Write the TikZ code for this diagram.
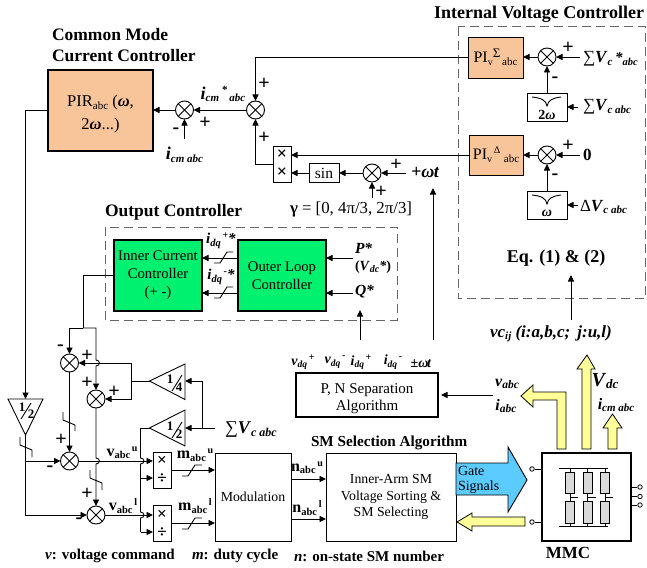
\documentclass[tikz,border=0pt]{standalone}
\usepackage{fontspec}
\setmainfont{Liberation Serif}
\usetikzlibrary{arrows.meta}
\definecolor{pirc}{HTML}{F8C49A}
\definecolor{grn}{HTML}{00F070}
\definecolor{yel}{HTML}{FFFF99}
\definecolor{blu}{HTML}{5CCBFF}
\definecolor{dashc}{HTML}{666666}
\newcommand\fz[1]{\fontsize{#1}{#1}\selectfont}
\newcommand\bi[1]{\textbf{\textit{#1}}}
\newcommand\lowt[2][9.5]{\raisebox{-2.5pt}{\fz{#1}\bfseries\itshape #2}}
\newcommand\hight[2][9.5]{\raisebox{5pt}{\fz{#1}\bfseries #2}}
\newcommand\nlow[2][9.5]{\raisebox{-2.5pt}{\fz{#1}#2}}
\newcommand\blow[2][9.5]{\raisebox{-2.5pt}{\fz{#1}\bfseries #2}}
\def\hopv#1#2{-- (#1,#2-3) .. controls (#1+4.5,#2-3) and (#1+4.5,#2+3) .. (#1,#2+3)}
\tikzset{
 x=1pt,y=-1pt,
 every path/.style={line width=.9pt},
 arr/.style={-{Triangle[length=6.5pt,width=6pt]}},
 box/.style={draw,inner sep=0pt,outer sep=0pt,align=center,font=\fz{15},line width=.9pt},
 txt/.style={inner sep=0pt,outer sep=0pt},
 title/.style={txt,font=\fz{17.5}\bfseries,align=left},
 lab/.style={txt,font=\fz{14}},
 pm/.style={txt,font=\fz{20}\bfseries},
 frac/.style={txt,font=\fz{13}\bfseries},
 sumj/.style={circle,draw,inner sep=0pt,outer sep=0pt,minimum size=18pt,line width=.9pt,
  path picture={\draw (path picture bounding box.north west)--(path picture bounding box.south east)
   (path picture bounding box.north east)--(path picture bounding box.south west);}},
 dbox/.style={draw=dashc,line width=1pt,dash pattern=on 9pt off 5pt},
 yarrow/.style={draw,fill=yel,line width=.8pt,line join=miter},
 term/.style={circle,draw,fill=white,inner sep=0pt,minimum size=4.5pt,line width=.8pt},
 res/.style={draw,fill=black!15,inner sep=0pt,minimum width=9pt,minimum height=21pt,line width=.7pt},
}
\begin{document}
\begin{tikzpicture}
\useasboundingbox (0,0) rectangle (647,567);
% dashed boxes
\draw[dbox] (458,27) rectangle (645.5,298);
\draw[dbox] (105,227) rectangle (397,320);
% titles
\node[title,anchor=west] (t1) at (52,35) {Common Mode};
\node[title,anchor=west] (t2) at (52,56) {Current Controller};
\node[title,anchor=east,font=\fz{18}\bfseries] (t3) at (644,14) {Internal Voltage Controller};
\node[title,anchor=west] (t4) at (105,212) {Output Controller};
\node[txt,font=\fz{15.2}\bfseries,anchor=west] (t5) at (311,443) {SM Selection Algorithm};
\node[txt,font=\fz{17}\bfseries] (t6) at (568,553) {MMC};
\node[txt,font=\fz{18}\bfseries] (t7) at (556,258) {Eq. (1) \& (2)};
% main boxes
\node[box,fill=pirc,minimum width=105pt,minimum height=81pt,line width=1.1pt,font=\fz{16.5}] (pir) at (100.5,110.5)
 {\rule{0pt}{19pt}PIR\nlow[11]{abc} (\bi{ω},\\[6pt]2\bi{ω}...)};
\node[sumj] (s1) at (184.5,110) {};
\node[sumj] (s2) at (255.5,110) {};
\node[box,fill=pirc,minimum width=55pt,minimum height=41pt,font=\fz{16}] (pis) at (495.5,57.5)
 {PI\nlow[10]{v}\raisebox{5pt}{\fz{13}Σ}\nlow[11]{\,abc}};
\node[box,fill=pirc,minimum width=54pt,minimum height=40pt,font=\fz{16}] (pid) at (496,155)
 {PI\nlow[10]{v}\raisebox{6pt}{\fz{10}\,Δ}\nlow[11]{\,\,abc}};
\node[sumj] (s3) at (547,57) {};
\node[sumj] (s4) at (547,155) {};
\node[box,minimum width=40pt,minimum height=28pt] (f1) at (547,107) {};
\node[box,minimum width=40pt,minimum height=28pt] (f2) at (547,205) {};
\node[txt,font=\fz{14}\bfseries\itshape] (f1t) at (547,115) {\textup{2}ω};
\node[txt,font=\fz{14}\bfseries\itshape] (f2t) at (547,213) {ω};
\draw (532,97) .. controls (541,98) and (546,100) .. (547,106) .. controls (548,100) and (553,98) .. (561,97);
\draw (532,195) .. controls (541,196) and (546,198) .. (547,204) .. controls (548,198) and (553,196) .. (561,195);
\node[box,minimum width=18pt,minimum height=36pt,font=\fz{18}\bfseries] (mult) at (282,164) {×\\[0pt]×};
\node[box,minimum width=30pt,minimum height=19pt,font=\fz{15.5}] (sin) at (324,173) {sin};
\node[sumj] (s5) at (372,173) {};
\node[box,fill=grn,minimum width=88pt,minimum height=71pt,line width=1.1pt,font=\fz{14.7}] (inner) at (158,275.5)
 {Inner Current\\[3.3pt]Controller\\[3.3pt](+ -)};
\node[box,fill=grn,minimum width=88pt,minimum height=71pt,line width=1.1pt,font=\fz{14.7}] (outer) at (282,275.5)
 {Outer Loop\\[3.3pt]Controller};
\node[box,minimum width=142pt,minimum height=44pt,line width=1.1pt] (pn) at (367,395)
 {\rule{0pt}{17pt}P, N Separation\\[2.5pt]Algorithm};
\node[box,minimum width=76pt,minimum height=88pt,font=\fz{13.8}] (mod) at (253,497) {Modulation};
\node[box,minimum width=130pt,minimum height=88pt,font=\fz{13.8}] (sm) at (391,497)
 {Inner-Arm SM\\[3pt]Voltage Sorting \&\\[3pt]SM Selecting};
\node[box,minimum width=89pt,minimum height=88pt,line width=1.5pt] (mmc) at (586.5,497) {};
% sums at left
\node[sumj] (sa) at (69.5,363) {};
\node[sumj] (sb) at (96,399) {};
\node[sumj] (sc) at (69.5,461) {};
\node[sumj] (sd) at (96,515) {};
\node[box,minimum width=18pt,minimum height=36pt,font=\fz{17}\bfseries] (mu) at (162,470) {×\\[1pt]÷};
\node[box,minimum width=18pt,minimum height=36pt,font=\fz{17}\bfseries] (ml) at (162,523.5) {×\\[1pt]÷};
% gain triangles
\draw (8,399) coordinate (hb1) -- (43,399) -- (25.5,435) coordinate (ha) -- cycle;
\coordinate (htop) at (25.5,399);
\draw (149.5,381) coordinate (qa) -- (185,364) -- (185,399.5) -- cycle;
\coordinate (qb) at (185,381);
\draw (149.5,428) coordinate (ga) -- (185,410) -- (185,446) -- cycle;
\coordinate (gb) at (185,428);
\node[frac] (f11) at (170,379) {1}; \node[frac] (f12) at (179,387) {4};
\draw (172,391) -- (182,375);
\node[frac] (f21) at (170,426) {1}; \node[frac] (f22) at (179,434) {2};
\draw (172,438) -- (182,422);
\node[frac] (f31) at (22,407) {1}; \node[frac] (f32) at (31,414) {2};
\draw (21,419) -- (31,403);
% connectors, top
\draw[arr] (s1.west) -- (pir.east|-s1);
\draw[arr] (s2.west) -- (s1.east);
\coordinate (icm) at (184.5,139);
\draw[arr] (icm) -- (s1.south);
\draw[arr] (pis.west) -| (s2.north);
\draw[arr] (mult.west) -| (s2.south);
\draw[arr] (pid.west) -- (mult.east|-pid);
\draw[arr] (sin.west) -- (mult.east|-sin);
\draw[arr] (s5.west) -- (sin.east);
\coordinate (wt) at (406,173);
\draw[arr] (wt) -- (s5.east);
\coordinate (gam) at (372,198);
\draw[arr] (gam) -- (s5.south);
\draw[arr] (s3.west) -- (pis.east|-s3);
\draw[arr] (s4.west) -- (pid.east|-s4);
\coordinate (i3) at (580,57); \coordinate (i4) at (580,155);
\draw[arr] (i3) -- (s3.east);
\draw[arr] (i4) -- (s4.east);
\draw[arr] (f1.north) -- (s3.south);
\draw[arr] (f2.north) -- (s4.south);
\coordinate (i5) at (578,107); \coordinate (i6) at (578,205);
\draw[arr] (i5) -- (f1.east);
\draw[arr] (i6) -- (f2.east);
% output controller
\coordinate (op) at (353,258); \coordinate (oq) at (353,293);
\draw[arr] (op) -- (outer.east|-op);
\draw[arr] (oq) -- (outer.east|-oq);
\draw[arr] (outer.west|-op) -- (inner.east|-op);
\draw[arr] (outer.west|-oq) -- (inner.east|-oq);
\draw (214,263) -- (220,263) -- (227,252) -- (233,252);
\draw (214,298) -- (220,298) -- (227,287) -- (233,287);
\coordinate (qin) at (360,340); \coordinate (qout) at (360,310);
\draw[arr] (qin) -- (qout);
\coordinate (win) at (433,340); \coordinate (wout) at (433,188);
\draw[arr] (win) -- (wout);
\coordinate (vcb) at (571,320); \coordinate (vct) at (571,275);
\draw[arr] (vcb) -- (vct);
% left part
\draw[arr] (pir.west) -| (htop);
\coordinate (split) at (83,328);
\draw (inner.west) -| (split);
\draw[arr] (split) -| (sa.north);
\draw[arr] (split) -- (96,328) \hopv{96}{363} -- (sb.north);
\coordinate (v14) at (131,381);
\draw (qa) -- (v14);
\draw[arr] (v14) |- (sa.east);
\draw[arr] (v14) |- (sb.east);
\coordinate (svin) at (215,428);
\coordinate (svj) at (202,428);
\draw[arr] (svin) -- (gb);
\draw[arr] (svj) |- (qb);
\draw[arr] (sa.south) -- (sc.north);
\draw[arr] (sb.south) \hopv{96}{461} -- (sd.north);
\coordinate (hj1) at (25.5,461);
\draw (ha) -- (hj1);
\draw[arr] (hj1) -- (sc.west);
\draw[arr] (hj1) |- (sd.west);
\draw (63,412) -- (63,420) -- (75,425) -- (75,431);
\draw (20,437) -- (20,445) -- (32,450) -- (32,457);
\draw (90,470) -- (90,478) -- (102,483) -- (102,490);
% 1/2 output and multipliers
\coordinate (gj) at (140.5,428);
\draw (ga) -- (gj);
\coordinate (dj1) at (140.5,478);
\coordinate (dj2) at (140.5,532);
\draw (gj) \hopv{140.5}{461} -- (dj1) \hopv{140.5}{515} -- (dj2);
\draw[arr] (dj1) -- (mu.west|-dj1);
\draw[arr] (dj2) -- (ml.west|-dj2);
\coordinate (ui) at (153,461); \coordinate (li) at (153,515);
\draw[arr] (sc.east) -- (ui);
\draw[arr] (sd.east) -- (li);
% m and n
\coordinate (mo1) at (171,470); \coordinate (mo2) at (171,523);
\draw[arr] (mo1) -- (mod.west|-mo1);
\draw[arr] (mo2) -- (mod.west|-mo2);
\draw (182,476) -- (188,476) -- (195,465) -- (202,465);
\draw (182,529) -- (188,529) -- (195,518) -- (202,518);
\coordinate (no1) at (291,479); \coordinate (no2) at (291,519);
\draw[arr] (no1) -- (sm.west|-no1);
\draw[arr] (no2) -- (sm.west|-no2);
% right part
\coordinate (vin) at (493,395);
\draw[arr] (vin) -- (441,395);
\draw[yarrow] (566,449) -- (566,392) -- (533,392) -- (533,385) -- (521,396) -- (533,407) -- (533,400) -- (557,400) -- (557,449) -- cycle;
\draw[yarrow] (582,449) -- (582,369) -- (577,369) -- (587,355) -- (595,369) -- (591,369) -- (591,449) -- cycle;
\draw[yarrow] (608,449) -- (608,428) -- (603,428) -- (612.5,414) -- (622,428) -- (617,428) -- (617,449) -- cycle;
\draw[draw,fill=blu] (456,463) -- (508,463) -- (508,447) -- (527,480) -- (508,512) -- (508,495) -- (456,495) -- cycle;
\draw[yarrow] (525,517) -- (472,517) -- (472,513) -- (457,522) -- (472,531) -- (472,526) -- (525,526) -- cycle;
\node[txt,font=\fz{14},anchor=west] (g1) at (458,471) {Gate};
\node[txt,font=\fz{14},anchor=west] (g2) at (458,487) {Signals};
% MMC
\node[term] (tl1) at (532,469) {}; \node[term] (tl2) at (532,522) {};
\draw (tl1) -- (mmc.west|-tl1); \draw (tl2) -- (mmc.west|-tl2);
\node[term] (tr1) at (640,487) {}; \node[term] (tr2) at (640,496.5) {}; \node[term] (tr3) at (640,505) {};
\draw (tr1) -- (mmc.east|-tr1); \draw (tr2) -- (mmc.east|-tr2); \draw (tr3) -- (mmc.east|-tr3);
\coordinate (bt1) at (559,468); \coordinate (bt2) at (608,468);
\coordinate (bb1) at (559,526); \coordinate (bb2) at (608,526);
\draw (bt1) -- (bt2); \draw (bb1) -- (bb2);
\foreach \n/\x in {a/570,b/587.5,c/605}{
 \node[res] (ru\n) at (\x,482.5) {};
 \node[res,minimum height=22pt] (rl\n) at (\x,512) {};
 \draw[line width=.7pt] (ru\n.north) -- (\x,468);
 \draw[line width=.7pt] (rl\n.south) -- (\x,526);
 \draw[line width=.7pt] (ru\n.south) -- (rl\n.north);
 \draw[line width=.7pt] (\x,497) -- (\x+8,497);
}
% labels top
\node[lab] (l1) at (223,94) {\fz{18}\bi{i}\lowt[11]{cm}\raisebox{6pt}{\,\fz{11}\bfseries *}\lowt[11]{\,abc}};
\node[lab] (l2) at (184.5,155) {\fz{18}\bi{i}\lowt[11]{cm abc}};
\node[pm] at (264,84) {+}; \node[pm] at (264,138) {+};
\node[pm] at (205,123) {+}; \node[pm] at (176,131) {-};
\node[pm] at (396,165) {+}; \node[pm] at (381,192) {+};
\node[lab,font=\fz{18}\bfseries\itshape,anchor=west] (wtl) at (411,173) {+ω\kern-.5pt t};
\node[lab,font=\fz{16.8},anchor=west] (gl) at (290,209) {\textbf{γ} = [0, 4π/3, 2π/3]};
\node[pm] at (568,48) {+}; \node[pm] at (568,146) {+};
\node[pm] at (555,80) {-}; \node[pm] at (555,177) {-};
\node[lab,anchor=west] (l3) at (583,59) {\fz{17}∑\bi{V}\lowt[11]{c}\fz{15}\,\bi{*}\lowt[10.5]{abc}};
\node[lab,anchor=west,font=\fz{17}\bfseries] (l4) at (583,155) {0};
\node[lab,anchor=west] (l5) at (583,107) {\fz{17}∑\bi{V}\lowt[11]{c abc}};
\node[lab,anchor=west] (l6) at (580,207) {\fz{17}Δ\bi{V}\lowt[11]{c abc}};
% labels output controller
\node[lab] (l7) at (221,241) {\fz{15}\bi{i}\lowt[10.5]{dq}\hight[10]{\,+}\bi{*}};
\node[lab] (l8) at (221,277) {\fz{15}\bi{i}\lowt[10.5]{dq}\hight[10]{\,-}\bi{*}};
\node[lab,anchor=west] (l9) at (355,248) {\fz{15.5}\bi{P*}};
\node[lab,anchor=west] (l10) at (355,267) {\fz{14}\textbf{(}\bi{V}\lowt[10]{dc}\bi{*}\textbf{)}};
\node[lab,anchor=west] (l11) at (355,292) {\fz{15.5}\bi{Q*}};
% labels left
\node[pm] at (60.5,348) {-}; \node[pm] at (87,356) {+};
\node[pm] at (87,383) {+}; \node[pm] at (114,392) {+};
\node[pm] at (61,440) {+}; \node[pm] at (50,469) {-};
\node[pm] at (87,494) {+}; \node[pm] at (79,521) {-};
\node[lab,anchor=west] (l12) at (225,430) {\fz{18}∑\bi{V}\lowt[12]{c abc}};
\node[lab] (v1) at (122,453) {\fz{16}\textbf{v}\blow[10.5]{abc}\hight[10]{\,u}};
\node[lab] (v2) at (123,506) {\fz{16}\textbf{v}\blow[10.5]{abc}\hight[10]{\,l}};
\node[lab] (m1) at (195,455) {\fz{16}\textbf{m}\blow[10.5]{abc}\hight[10]{\,u}};
\node[lab] (m2) at (195,506) {\fz{16}\textbf{m}\blow[10.5]{abc}\hight[10]{\,l}};
\node[lab] (n1) at (307,468) {\fz{16}\textbf{n}\blow[10.5]{abc}\hight[10]{\,u}};
\node[lab] (n2) at (307,508) {\fz{16}\textbf{n}\blow[10.5]{abc}\hight[10]{\,l}};
% labels right
\node[lab] (p1) at (303,362) {\fz{14}\bi{v}\lowt[9.5]{dq}\hight[10]{\,+}};
\node[lab] (p2) at (335,362) {\fz{14}\bi{v}\lowt[9.5]{dq}\hight[10]{\,-}};
\node[lab] (p3) at (361,362) {\fz{14}\bi{i}\lowt[9.5]{dq}\hight[10]{\,+}};
\node[lab] (p4) at (393,362) {\fz{14}\bi{i}\lowt[9.5]{dq}\hight[10]{\,-}};
\node[lab,font=\fz{14}\bfseries] (p5) at (421,364) {±\textit{ω\kern-1.5pt t}};
\node[lab] (a1) at (507,384) {\fz{16}\bi{v}\lowt[11.5]{abc}};
\node[lab] (a2) at (506,406) {\fz{16}\bi{i}\lowt[11.5]{abc}};
\node[lab] (a3) at (605,381) {\fz{20}\bi{V}\lowt[13]{dc}};
\node[lab] (a4) at (616,405) {\fz{16}\bi{i}\lowt[11]{cm abc}};
\node[lab,font=\fz{17}\bfseries\itshape] (a5) at (551,334) {vc\lowt[11]{ij} (i:a,b,c;\, j:u,l)};
% legend
\node[txt,font=\fz{15}\bfseries,anchor=west] (k1) at (45,556) {\textit{v}: voltage command};
\node[txt,font=\fz{15}\bfseries,anchor=west] (k2) at (192,556) {\textit{m}: duty cycle};
\node[txt,font=\fz{15}\bfseries,anchor=west] (k3) at (294,556) {\textit{n}: on-state SM number};
\end{tikzpicture}
\end{document}
